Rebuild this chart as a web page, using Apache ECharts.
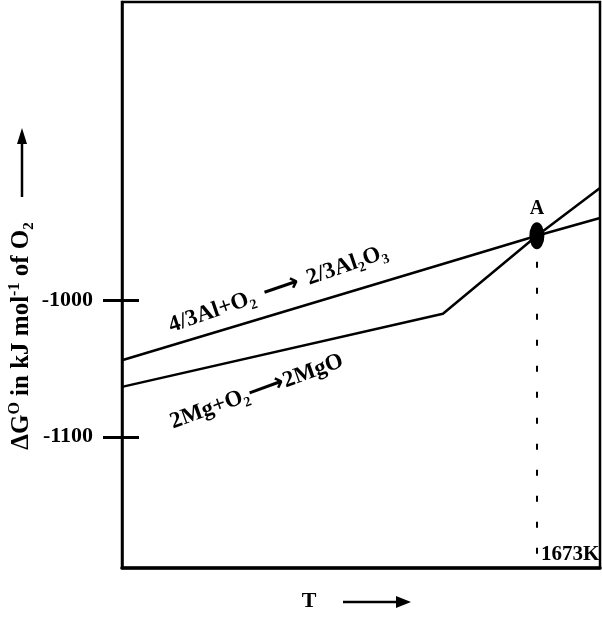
<!DOCTYPE html>
<html>
<head>
<meta charset="utf-8">
<script src="https://cdn.jsdelivr.net/npm/echarts@6/dist/echarts.min.js"></script>
<style>html,body{margin:0;padding:0;background:#fff;}#c{width:602px;height:621px;}</style>
</head>
<body>
<div id="c"></div>
<script>
// Data (T in K, ΔG° in kJ/mol O2)
const alT = [273, 1673, 1886];
const alG = [-1044, -953, -940];
const mgT = [273, 1356, 1673, 1886];
const mgG = [-1063.5, -1010, -953, -918];
const pointA = [1673, -953];
const yTickValues = [-1000, -1100];
const xTickValues = [1673];
const xRange = [273, 1886];
const yRange = [-1196, -782];
const alLabelPos = [800, -992];
const mgLabelPos = [728, -1067];

const SERIF = 'Liberation Serif';
const chart = echarts.init(document.getElementById('c'));

const rich = {
  n: {fontFamily: SERIF, fontWeight: 'bold', fontSize: 23, color: '#000', lineHeight: 28, verticalAlign: 'middle'},
  s: {fontFamily: SERIF, fontWeight: 'bold', fontSize: 14, color: '#000', lineHeight: 15, verticalAlign: 'bottom'},
  a: {fontFamily: 'DejaVu Sans', fontWeight: 'bold', fontSize: 26, color: '#000', lineHeight: 28, verticalAlign: 'middle'}
};

const option = {
  animation: false,
  backgroundColor: '#fff',
  grid: {left: 122, right: 2, top: 2, bottom: 53, outerBoundsMode: 'none', containLabel: false,
         show: true, borderColor: '#000', borderWidth: 2.5, backgroundColor: 'transparent'},
  xAxis: {
    type: 'value', min: xRange[0], max: xRange[1],
    splitLine: {show: false},
    axisLine: {show: true, lineStyle: {color: '#000', width: 3.5}},
    axisTick: {show: false},
    axisLabel: {
      customValues: xTickValues, inside: true, margin: 3, align: 'left',
      formatter: v => String(v) + 'K', padding: [0, 0, 0, 4], hideOverlap: false,
      fontFamily: SERIF, fontWeight: 'bold', fontSize: 21, color: '#000', verticalAlign: 'bottom'
    }
  },
  yAxis: [{
    type: 'value', min: yRange[0], max: yRange[1],
    splitLine: {show: false},
    axisLine: {show: true, onZero: false, lineStyle: {color: '#000', width: 2.5}},
    axisTick: {show: true, customValues: yTickValues, length: 19, lineStyle: {color: '#000', width: 3}},
    axisLabel: {customValues: yTickValues, margin: 29, formatter: v => String(v),
                fontFamily: SERIF, fontWeight: 'bold', fontSize: 22, color: '#000'}
  }, {
    type: 'value', min: yRange[0], max: yRange[1], position: 'left',
    splitLine: {show: false},
    axisLine: {show: false},
    axisTick: {show: true, inside: true, customValues: yTickValues, length: 17, lineStyle: {color: '#000', width: 3}},
    axisLabel: {show: false}
  }],
  series: [
    {
      type: 'line', name: 'Al', data: alT.map((t, i) => [t, alG[i]]),
      symbol: 'none', lineStyle: {color: '#000', width: 2.5}
    },
    {
      type: 'line', name: 'Mg', data: mgT.map((t, i) => [t, mgG[i]]),
      symbol: 'none', lineStyle: {color: '#000', width: 2.5},
      markLine: {
        silent: true, symbol: 'none',
        lineStyle: {color: '#000', width: 2, type: [6, 20], opacity: 1},
        label: {show: false},
        data: [[{coord: [pointA[0], pointA[1]]}, {coord: [pointA[0], yRange[0]]}]]
      }
    },
    {
      type: 'scatter', data: [pointA], symbol: 'circle', symbolSize: [15, 27],
      itemStyle: {color: '#000', opacity: 1}, z: 5,
      label: {show: true, position: 'top', distance: 3, formatter: 'A', fontFamily: SERIF, fontWeight: 'bold', fontSize: 20, color: '#000'}
    },
    {
      type: 'scatter', symbolSize: 0, silent: true, itemStyle: {opacity: 1, color: '#000'},
      data: [
        {value: alLabelPos, label: {rotate: 19, formatter: '{n|4/3Al+O}{s|2}{a| ⟶ }{n|2/3Al}{s|2}{n|O}{s|3}'}},
        {value: mgLabelPos, label: {rotate: 20, formatter: '{n|2Mg+O}{s|2}{a|⟶}{n|2MgO}'}}
      ],
      label: {show: true, position: 'inside', color: '#000', opacity: 1, rich: rich}
    }
  ],
  graphic: [
    {
      type: 'text', x: 22, y: 336, rotation: Math.PI / 2,
      style: {
        text: '{n|ΔG}{p|O}{n| in kJ mol}{p|-1}{n| of O}{s|2}',
        align: 'center', verticalAlign: 'middle',
        rich: {
          n: {fontFamily: SERIF, fontWeight: 'bold', fontSize: 25, fill: '#000', lineHeight: 30, verticalAlign: 'middle'},
          p: {fontFamily: SERIF, fontWeight: 'bold', fontSize: 16, fill: '#000', lineHeight: 17, verticalAlign: 'top'},
          s: {fontFamily: SERIF, fontWeight: 'bold', fontSize: 15, fill: '#000', lineHeight: 17, verticalAlign: 'bottom'}
        }
      }
    },
    {type: 'line', shape: {x1: 22, y1: 197, x2: 22, y2: 140}, style: {stroke: '#000', lineWidth: 2.5}},
    {type: 'polygon', shape: {points: [[22, 128], [17, 144], [27, 144]]}, style: {fill: '#000'}},
    {type: 'text', x: 309, y: 601, style: {text: 'T', align: 'center', verticalAlign: 'middle', fontFamily: SERIF, fontWeight: 'bold', fontSize: 22, fill: '#000'}},
    {type: 'line', shape: {x1: 343, y1: 602, x2: 398, y2: 602}, style: {stroke: '#000', lineWidth: 2.5}},
    {type: 'polygon', shape: {points: [[411, 602], [396, 596], [396, 608]]}, style: {fill: '#000'}}
  ]
};
chart.setOption(option);
</script>
</body>
</html>
